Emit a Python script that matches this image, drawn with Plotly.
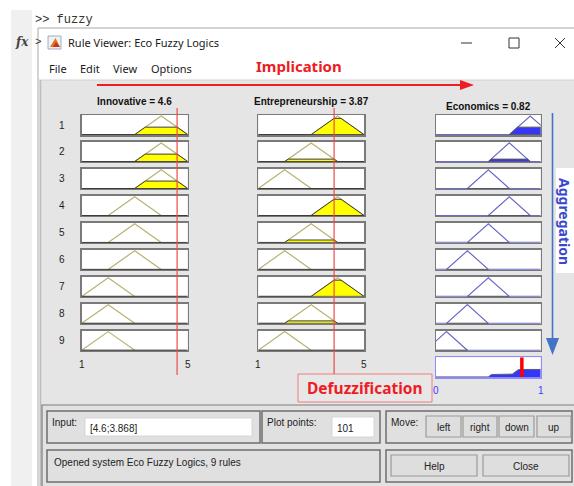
import numpy as np
import plotly.graph_objects as go

W, H = 574, 486

# ---------------- data ----------------
input_names = ["Innovative", "Entrepreneurship"]
output_name = "Economics"
input_values = [4.6, 3.868]
input_labels = ["4.6", "3.87"]
output_value = 0.82
output_label = "0.82"
input_range = [1, 5]
output_range = [0, 1]
innovative_mf = [[1, 2, 3], [2, 3, 4], [3, 4, 5]]          # low, medium, high
entrepreneurship_mf = [[1, 2, 3], [2, 3, 4], [3, 4, 5]]    # low, medium, high
economics_mf = [[-0.1, 0.1, 0.3], [0.1, 0.3, 0.5], [0.3, 0.5, 0.7],
                [0.5, 0.7, 0.9], [0.7, 0.9, 1.1]]
rule_innovative = [2, 2, 2, 1, 1, 1, 0, 0, 0]
rule_entrepreneurship = [2, 1, 0, 2, 1, 0, 2, 1, 0]
rule_economics = [4, 3, 2, 3, 2, 1, 2, 1, 0]
rule_numbers = [1, 2, 3, 4, 5, 6, 7, 8, 9]
input_ticks = [1, 5]
output_ticks = [0, 1]
plot_points = 101

# ---------------- helpers ----------------
def px(x):
    return x / W


def py(y):
    return 1 - y / H


def tri(x, abc):
    a, b, c = abc
    x = np.asarray(x, dtype=float)
    left = (x - a) / (b - a)
    right = (c - x) / (c - b)
    return np.clip(np.minimum(left, right), 0, 1)


def mu(xv, abc):
    return float(tri([xv], abc)[0])


col_x = [(81.7, 187.7), (258.3, 364.0), (436.0, 540.7)]
row_top0, row_pitch, box_h = 115.0, 26.96, 20.0
agg_top = 357.3
YR = [-0.02, 1.05]

traces = []
shapes = []
annotations = []
layout_axes = {}

INPUT_LINE = "#b9b272"
YELLOW = "#ffff00"
OUT_LINE = "#6a6ac8"
OUT_FILL = "#3636f5"
EDGE = "#3c3c3c"


def axis_names(n):
    if n == 1:
        return "xaxis", "yaxis", "x", "y"
    return f"xaxis{n}", f"yaxis{n}", f"x{n}", f"y{n}"


def add_axes(n, xdom, ydom, xr, linecolor="#7a7a7a"):
    xa, ya, xref, yref = axis_names(n)
    common = dict(showgrid=False, zeroline=False, showticklabels=False, ticks="",
                  showline=True, mirror=True, linecolor=linecolor, linewidth=1.5,
                  layer="below traces", fixedrange=True)
    layout_axes[xa] = dict(domain=[px(xdom[0]), px(xdom[1])], range=xr, anchor=yref, **common)
    layout_axes[ya] = dict(domain=[py(ydom[1]), py(ydom[0])], range=YR, anchor=xref, **common)
    shapes.append(dict(type="rect", xref=xref, yref=yref, x0=xr[0], x1=xr[1], y0=YR[0], y1=YR[1],
                       fillcolor="white", line=dict(width=0), layer="below"))
    return xref, yref


def line_trace(x, y, xref, yref, color, width=1.0, fill=None, fillcolor=None):
    traces.append(go.Scatter(x=list(x), y=list(y), xaxis=xref, yaxis=yref, mode="lines",
                             line=dict(color=color, width=width), fill=fill,
                             fillcolor=fillcolor, hoverinfo="skip", showlegend=False))


input_mfs = [innovative_mf, entrepreneurship_mf]
input_rules = [rule_innovative, rule_entrepreneurship]
firing = []
n = 0
col_refs = []
for r in range(9):
    top = row_top0 + r * row_pitch
    ydom = (top, top + box_h)
    degs = []
    refs_row = []
    for c in range(2):
        n += 1
        lo, hi = input_range
        xref, yref = add_axes(n, col_x[c], ydom, [lo, hi])
        refs_row.append(xref)
        abc = input_mfs[c][input_rules[c][r]]
        a, b, cc = abc
        h = mu(input_values[c], abc)
        degs.append(h)
        line_trace([a, b, cc], [0, 1, 0], xref, yref, INPUT_LINE, 1.2)
        fx = [lo, a, a + h * (b - a), cc - h * (cc - b), cc, hi, lo]
        fy = [0, 0, h, h, 0, 0, 0]
        line_trace(fx, fy, xref, yref, EDGE, 1.0, fill="toself", fillcolor=YELLOW)
    h_rule = min(degs)
    firing.append(h_rule)
    n += 1
    lo, hi = output_range
    xref, yref = add_axes(n, col_x[2], ydom, [lo, hi])
    refs_row.append(xref)
    col_refs.append(refs_row)
    abc = economics_mf[rule_economics[r]]
    a, b, cc = abc
    line_trace([min(lo, a), a, b, cc, max(hi, cc)], [0, 0, 1, 0, 0], xref, yref, OUT_LINE, 1.2)
    fx = [a, a + h_rule * (b - a), cc - h_rule * (cc - b), cc, a]
    fy = [0, h_rule, h_rule, 0, 0]
    line_trace(fx, fy, xref, yref, "#555566", 1.0, fill="toself", fillcolor=OUT_FILL)
    annotations.append(dict(text=str(rule_numbers[r]), x=px(62), y=py(top + box_h / 2),
                            xref="paper", yref="paper", showarrow=False,
                            xanchor="center", yanchor="middle",
                            font=dict(size=10, color="#222", family="Liberation Sans")))

# aggregate
n += 1
lo, hi = output_range
agg_x, agg_y = add_axes(n, col_x[2], (agg_top, agg_top + box_h), [lo, hi], linecolor="#8c8cff")
grid = np.linspace(lo, hi, plot_points)
agg = np.zeros_like(grid)
for r in range(9):
    agg = np.maximum(agg, np.minimum(tri(grid, economics_mf[rule_economics[r]]), firing[r]))
line_trace(grid, agg, agg_x, agg_y, "#5a5a78", 1.0, fill="tozeroy", fillcolor=OUT_FILL)
shapes.append(dict(type="line", xref=agg_x, yref=agg_y, x0=output_value, x1=output_value,
                   y0=YR[0], y1=YR[1], line=dict(color="#ff0000", width=3.5), layer="above"))

# input red lines
first_refs = col_refs[0]
shapes.append(dict(type="line", xref=first_refs[0], yref="paper", x0=input_values[0], x1=input_values[0],
                   y0=py(108), y1=py(375), line=dict(color="#f24848", width=1.2), layer="above"))
shapes.append(dict(type="line", xref=first_refs[1], yref="paper", x0=input_values[1], x1=input_values[1],
                   y0=py(108), y1=py(374), line=dict(color="#f24848", width=1.2), layer="above"))

# tick labels under the last rows
last = col_refs[-1]
for c in range(2):
    for t in input_ticks:
        annotations.append(dict(text=str(t), x=t, y=py(364), xref=last[c], yref="paper",
                                showarrow=False, xanchor="center", yanchor="middle",
                                font=dict(size=10, color="#222", family="Liberation Sans")))
for t in output_ticks:
    annotations.append(dict(text=str(t), x=t, y=py(390), xref=agg_x, yref="paper",
                            showarrow=False, xanchor="center", yanchor="middle",
                            font=dict(size=10, color="#3a3aff", family="Liberation Sans")))

# column titles
titles = [(f"{input_names[0]} = {input_labels[0]}", 134, 101),
          (f"{input_names[1]} = {input_labels[1]}", 311, 101),
          (f"{output_name} = {output_label}", 488, 107)]
for t, x, y in titles:
    annotations.append(dict(text=f"<b>{t}</b>", x=px(x), y=py(y), xref="paper", yref="paper",
                            showarrow=False, xanchor="center", yanchor="middle",
                            font=dict(size=10, color="#111", family="Liberation Sans")))

# ---------------- window chrome (paper shapes) ----------------
chrome = []


def rect(x0, y0, x1, y1, fill=None, line=None, lw=1.0):
    chrome.append(dict(type="rect", xref="paper", yref="paper", x0=px(x0), x1=px(x1),
                       y0=py(y1), y1=py(y0), fillcolor=fill if fill else "rgba(0,0,0,0)",
                       line=dict(color=line if line else "rgba(0,0,0,0)", width=lw if line else 0),
                       layer="below"))


def seg(x0, y0, x1, y1, color, lw=1.0, layer="below"):
    chrome.append(dict(type="line", xref="paper", yref="paper", x0=px(x0), x1=px(x1),
                       y0=py(y0), y1=py(y1), line=dict(color=color, width=lw), layer=layer))


def path(d_pts, fill, layer="below"):
    d = "M " + " L ".join(f"{px(x)} {py(y)}" for x, y in d_pts) + " Z"
    chrome.append(dict(type="path", xref="paper", yref="paper", path=d, fillcolor=fill,
                       line=dict(width=0), layer=layer))


rect(11, 10, 32, 486, fill="#f0f0f0")
rect(38, 28, 576, 490, fill="#ffffff", line="#a8a8a8", lw=1)
rect(39, 80, 576, 490, fill="#e5e5e5")
seg(39, 80, 576, 80, "#d2d2d2", 1)
seg(40.5, 80, 40.5, 486, "#bdbdbd", 1.5)
# bottom frame
rect(42, 405, 578, 490, fill="#e2e2e2", line="#7c7c7c", lw=1.2)
for (x0, y0, x1, y1) in [(47, 411, 260, 443), (262, 411, 380, 443), (386, 411, 572, 443),
                         (47, 450, 380, 482), (386, 450, 572, 482)]:
    rect(x0, y0, x1, y1, fill="#e0e0e0", line="#6e6e6e", lw=1.5)
rect(85, 418, 252, 436, fill="#ffffff", line="#d0d0d0", lw=0.8)
rect(332, 417, 374, 437, fill="#ffffff", line="#d0d0d0", lw=0.8)
buttons = [(426, 416, 461, 437), (463, 416, 497, 437), (499, 416, 534, 437), (537, 416, 571, 437),
           (391, 455, 477, 476), (483, 455, 569, 476)]
for b in buttons:
    rect(*b, fill="#dedede", line="#9a9a9a", lw=1.2)
# title bar icon and controls
rect(48, 36, 61, 49, fill="#eef2f7", line="#8d9bb0", lw=0.8)
path([(50, 47), (55.5, 38), (60, 47)], "#e2731e")
path([(53, 47), (56, 42), (60, 47)], "#c2361a")
seg(461, 43, 472, 43, "#333", 1)
rect(509, 38, 519, 48, line="#333", lw=1)
seg(555, 38, 565, 48, "#333", 1)
seg(555, 48, 565, 38, "#333", 1)
# implication arrow
seg(97, 85, 462, 85, "#ee1c25", 2.2)
path([(460, 80), (474, 85), (460, 90)], "#ee1c25")
# aggregation arrow & label box
seg(552.5, 113, 552.5, 340, "#4472c4", 1.6)
path([(546, 338), (552.5, 355), (559, 338)], "#4472c4")
rect(556, 168, 576, 273, fill="#ffffff")
# defuzzification box
rect(298, 374, 432, 402, fill="#e7e7e7", line="#f07a7a", lw=1)

shapes = chrome + shapes


def text(t, x, y, size=10, color="#222", family="Liberation Sans", xanchor="left", angle=0):
    annotations.append(dict(text=t, x=px(x), y=py(y), xref="paper", yref="paper", showarrow=False,
                            xanchor=xanchor, yanchor="middle", textangle=angle,
                            font=dict(size=size, color=color, family=family)))


text(">> fuzzy", 33, 20, 12, "#333", "Liberation Mono")
text("<b><i>fx</i></b>", 13, 42, 12, "#444", "DejaVu Serif")
text("&gt;", 33, 42, 11, "#333", "Liberation Mono")
text("Rule Viewer: Eco Fuzzy Logics", 66, 43, 11, "#1a1a1a", "Noto Sans")
for t, x in [("File", 47), ("Edit", 78), ("View", 111), ("Options", 149)]:
    text(t, x, 69, 11, "#1a1a1a", "Noto Sans")
text("<b>Implication</b>", 299, 66, 15, "#ee1c25", "Noto Sans", "center")
text("<b>Aggregation</b>", 565, 221, 14, "#3a48d0", "Noto Sans", "center", angle=90)
text("<b>Defuzzification</b>", 365, 388, 15.5, "#ee1c25", "Noto Sans", "center")
text("Input:", 50, 422, 10)
text("[4.6;3.868]", 88, 428, 10)
text("Plot points:", 265, 422, 10)
text(str(plot_points), 335, 428, 10)
text("Move:", 389, 422, 10)
for t, b in zip(["left", "right", "down", "up", "Help", "Close"], buttons):
    text(t, (b[0] + b[2]) / 2, (b[1] + b[3]) / 2 + 0.5, 10, "#222", "Liberation Sans", "center")
text("Opened system Eco Fuzzy Logics, 9 rules", 52, 462, 10)

fig = go.Figure(data=traces)
fig.update_layout(width=W, height=H, margin=dict(l=0, r=0, t=0, b=0),
                  paper_bgcolor="white", plot_bgcolor="white", showlegend=False,
                  shapes=shapes, annotations=annotations, **layout_axes)
fig.write_html("out.html", config={"displayModeBar": False, "staticPlot": True},
               post_script="document.body.style.margin='0';document.body.style.overflow='hidden';")
